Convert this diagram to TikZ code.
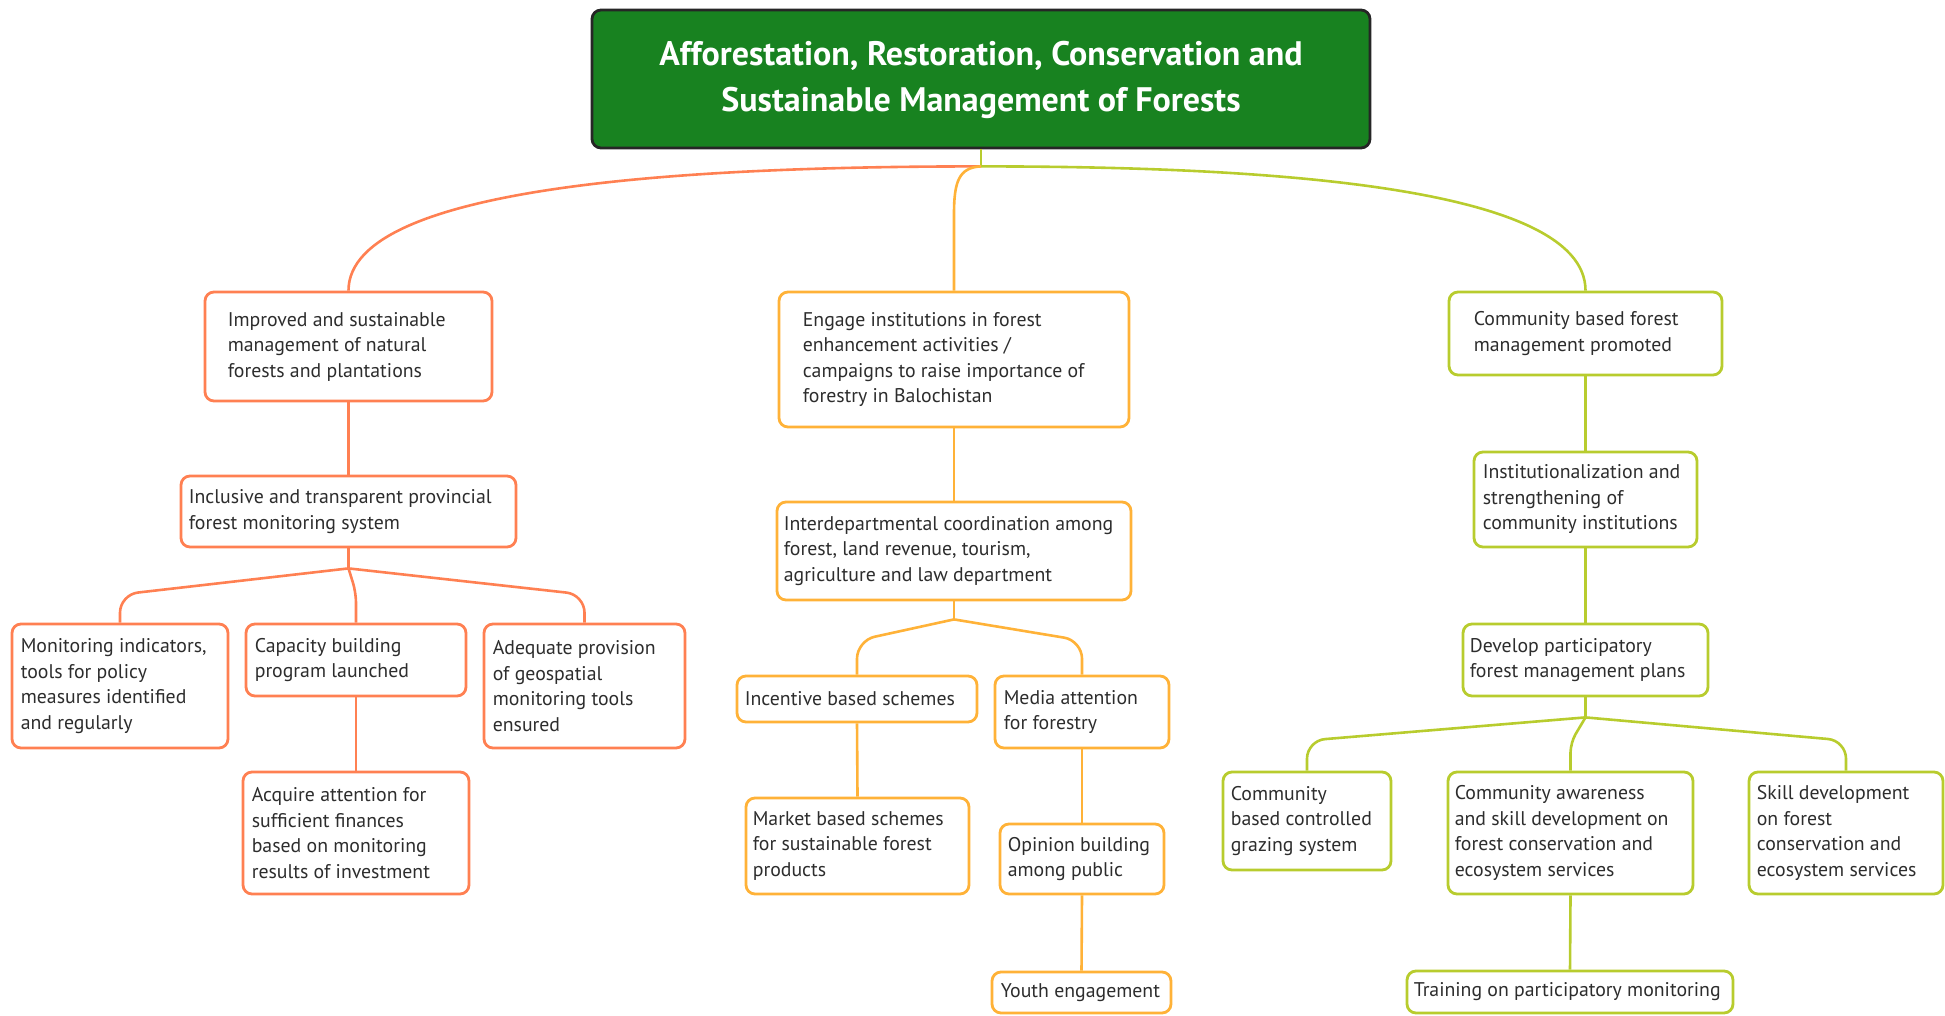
\documentclass[tikz,border=0pt]{standalone}
\usepackage{fontspec}
\setmainfont{PT Sans}
\usetikzlibrary{calc}

\definecolor{rootfill}{RGB}{24,130,32}
\definecolor{colA}{RGB}{255,128,82}
\definecolor{colB}{RGB}{255,178,56}
\definecolor{colC}{RGB}{184,204,46}
\definecolor{txtc}{RGB}{45,45,45}

\tikzset{
  boxA/.style={draw=colA, line width=2.8pt, rounded corners=9pt, fill=white, inner sep=0pt},
  boxB/.style={draw=colB, line width=2.8pt, rounded corners=9pt, fill=white, inner sep=0pt},
  boxC/.style={draw=colC, line width=2.8pt, rounded corners=9pt, fill=white, inner sep=0pt},
  linkA/.style={draw=colA, line width=2.6pt},
  linkB/.style={draw=colB, line width=2.6pt},
  linkC/.style={draw=colC, line width=2.6pt},
  label/.style={anchor=west, align=left, inner sep=0pt, text=txtc,
    font=\fontsize{19.8}{25.5}\selectfont},
  titlefont/.style={text=white, align=center, inner sep=0pt,
    font=\bfseries\fontsize{34}{46}\selectfont},
}

\begin{document}
\begin{tikzpicture}[x=1pt,y=-1pt]
\useasboundingbox (0,0) rectangle (1945,1016);

% ---------- root ----------
\node[draw=black!85, line width=2.8pt, rounded corners=9pt, fill=rootfill,
      minimum width=778pt, minimum height=138pt, inner sep=0pt] (root) at (981,79) {};
\node[titlefont] (roott) at ($(root.center)+(0,1)$)
  {Afforestation, Restoration, Conservation and\\Sustainable Management of Forests};

% ---------- left branch ----------
\node[boxA, minimum width=287pt, minimum height=109pt] (a1) at (348.5,346.5) {};
\node[boxA, minimum width=335pt, minimum height=71pt]  (a2) at (348.5,511.5) {};
\node[boxA, minimum width=216pt, minimum height=124pt] (a3) at (120,686) {};
\node[boxA, minimum width=220pt, minimum height=72pt]  (a4) at (356,660) {};
\node[boxA, minimum width=201pt, minimum height=124pt] (a5) at (584.5,686) {};
\node[boxA, minimum width=226pt, minimum height=122pt] (a6) at (356,833) {};

\node[label] (a1t) at ($(a1.west)+(24,0)$) {Improved and sustainable\\management of natural\\forests and plantations};
\node[label] (a2t) at ($(a2.west)+(9,0)$) {Inclusive and transparent provincial\\forest monitoring system};
\node[label] (a3t) at ($(a3.west)+(10,0)$) {Monitoring indicators,\\tools for policy\\measures identified\\and regularly};
\node[label] (a4t) at ($(a4.west)+(10,0)$) {Capacity building\\program launched};
\node[label] (a5t) at ($(a5.west)+(10,0)$) {Adequate provision\\of geospatial\\monitoring tools\\ensured};
\node[label] (a6t) at ($(a6.west)+(10,0)$) {Acquire attention for\\sufficient finances\\based on monitoring\\results of investment};

% ---------- middle branch ----------
\node[boxB, minimum width=350pt, minimum height=135pt] (b1) at (954,359.5) {};
\node[boxB, minimum width=354pt, minimum height=98pt]  (b2) at (954,551) {};
\node[boxB, minimum width=240pt, minimum height=46pt]  (b3) at (857,699) {};
\node[boxB, minimum width=174pt, minimum height=72pt]  (b4) at (1082,712) {};
\node[boxB, minimum width=223pt, minimum height=96pt]  (b5) at (857.5,846) {};
\node[boxB, minimum width=164pt, minimum height=70pt]  (b6) at (1082,859) {};
\node[boxB, minimum width=179pt, minimum height=41pt]  (b7) at (1081.5,992.5) {};

\node[label] (b1t) at ($(b1.west)+(25,0)$) {Engage institutions in forest\\enhancement activities /\\campaigns to raise importance of\\forestry in Balochistan};
\node[label] (b2t) at ($(b2.west)+(8,0)$) {Interdepartmental coordination among\\forest, land revenue, tourism,\\agriculture and law department};
\node[label] (b3t) at ($(b3.west)+(9,0)$) {Incentive based schemes};
\node[label] (b4t) at ($(b4.west)+(10,0)$) {Media attention\\for forestry};
\node[label] (b5t) at ($(b5.west)+(8,0)$) {Market based schemes\\for sustainable forest\\products};
\node[label] (b6t) at ($(b6.west)+(9,0)$) {Opinion building\\among public};
\node[label] (b7t) at ($(b7.west)+(10,0)$) {Youth engagement};

% ---------- right branch ----------
\node[boxC, minimum width=273pt, minimum height=83pt]  (c1) at (1585.5,333.5) {};
\node[boxC, minimum width=223pt, minimum height=95pt]  (c2) at (1585.5,499.5) {};
\node[boxC, minimum width=245pt, minimum height=72pt]  (c3) at (1585.5,660) {};
\node[boxC, minimum width=168pt, minimum height=98pt]  (c4) at (1307,821) {};
\node[boxC, minimum width=245pt, minimum height=122pt] (c5) at (1570.5,833) {};
\node[boxC, minimum width=194pt, minimum height=122pt] (c6) at (1846,833) {};
\node[boxC, minimum width=326pt, minimum height=42pt]  (c7) at (1570,992) {};

\node[label] (c1t) at ($(c1.west)+(26,0)$) {Community based forest\\management promoted};
\node[label] (c2t) at ($(c2.west)+(10,0)$) {Institutionalization and\\strengthening of\\community institutions};
\node[label] (c3t) at ($(c3.west)+(8,0)$) {Develop participatory\\forest management plans};
\node[label] (c4t) at ($(c4.west)+(9,0)$) {Community\\based controlled\\grazing system};
\node[label] (c5t) at ($(c5.west)+(8,0)$) {Community awareness\\and skill development on\\forest conservation and\\ecosystem services};
\node[label] (c6t) at ($(c6.west)+(9,0)$) {Skill development\\on forest\\conservation and\\ecosystem services};
\node[label] (c7t) at ($(c7.west)+(8,0)$) {Training on participatory monitoring};

% ---------- connectors from the root ----------
\coordinate (jr) at ($(root.south)+(0,17)$);
\draw[linkC] (root.south) -- (jr);
\draw[linkA] (jr) .. controls +(-281,0) and +(0,-107) .. (a1.north);
\draw[linkB] (jr) .. controls +(-22,1) and +(0,-32) .. ($(b1.north)+(0,-77)$) -- (b1.north);
\draw[linkC] (jr) .. controls +(270,0) and +(0,-107) .. (c1.north);

% ---------- left connectors ----------
\draw[linkA] (a1.south) -- (a2.north);
\coordinate (ja) at ($(a2.south)+(0,20)$);
\draw[linkA] (a2.south) -- (ja);
\draw[linkA, rounded corners=18pt] (ja) -- ($(a3.north)+(0,-28)$) -- (a3.north);
\draw[linkA, rounded corners=10pt] (ja) -- ($(a4.north)+(0,-30)$) -- (a4.north);
\draw[linkA, rounded corners=18pt] (ja) -- ($(a5.north)+(0,-28)$) -- (a5.north);
\draw[linkA] (a4.south) -- (a6.north);

% ---------- middle connectors ----------
\draw[linkB] (b1.south) -- (b2.north);
\coordinate (jb) at ($(b2.south)+(0,18)$);
\draw[linkB] (b2.south) -- (jb);
\draw[linkB, rounded corners=18pt] (jb) -- ($(b3.north)+(0,-34)$) -- (b3.north);
\draw[linkB, rounded corners=18pt] (jb) -- ($(b4.north)+(0,-34)$) -- (b4.north);
\draw[linkB] (b3.south) -- (b5.north);
\draw[linkB] (b4.south) -- (b6.north);
\draw[linkB] (b6.south) -- (b7.north);

% ---------- right connectors ----------
\draw[linkC] (c1.south) -- (c2.north);
\draw[linkC] (c2.south) -- (c3.north);
\coordinate (jc) at ($(c3.south)+(0,20)$);
\draw[linkC] (c3.south) -- (jc);
\draw[linkC, rounded corners=18pt] (jc) -- ($(c4.north)+(0,-30)$) -- (c4.north);
\draw[linkC, rounded corners=10pt] (jc) -- ($(c5.north)+(0,-28)$) -- (c5.north);
\draw[linkC, rounded corners=18pt] (jc) -- ($(c6.north)+(0,-30)$) -- (c6.north);
\draw[linkC] (c5.south) -- (c7.north);
\end{tikzpicture}
\end{document}
